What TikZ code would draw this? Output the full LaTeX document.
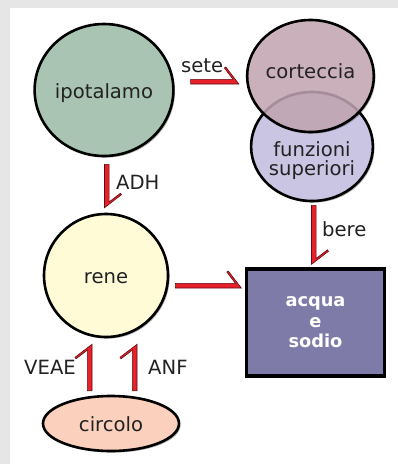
\documentclass[tikz,border=0pt]{standalone}
\usepackage{fontspec}
\setmainfont{DejaVu Sans}
\usetikzlibrary{calc,shapes.geometric,shadows}
\definecolor{bggray}{HTML}{E6E6E6}
\definecolor{ipoc}{HTML}{A9C4B2}
\definecolor{corc}{HTML}{CFB0BE}
\definecolor{func}{HTML}{C9C5E2}
\definecolor{renc}{HTML}{FEFBD6}
\definecolor{boxc}{HTML}{7F7BA9}
\definecolor{circ}{HTML}{FBD0BD}
\definecolor{arrred}{HTML}{E8202A}
\definecolor{arrline}{HTML}{5C0E12}
\definecolor{textc}{HTML}{222222}
\begin{document}
\begin{tikzpicture}[x=1pt,y=-1pt,
  blob/.style={ellipse, draw=black, line width=2.6pt, inner sep=0pt, text=textc,
    font=\fontsize{19.6}{18.3}\selectfont, text height=17pt, text depth=1pt,
    drop shadow={shadow xshift=1.6pt, shadow yshift=-1.6pt, fill=black, opacity=0.3}},
  lbl/.style={inner sep=0pt, text=textc, font=\fontsize{19.6}{18.3}\selectfont},
  harp/.style={draw=arrline, fill=arrred, line width=0.6pt, line join=miter,
    to path={-- (\tikztotarget)
      -- ($(\tikztotarget)!13pt!(\tikztostart)!17pt!-90:(\tikztostart)$)
      -- ($(\tikztotarget)!14.5pt!(\tikztostart)!16pt!-90:(\tikztostart)$)
      -- ($(\tikztotarget)!5.8pt!(\tikztostart)!4.6pt!-90:(\tikztostart)$)
      -- ($(\tikztostart)!4.6pt!90:(\tikztotarget)$) -- cycle}}]
\useasboundingbox (0,0) rectangle (398,464);
\fill[bggray] (0,0) rectangle (398,464);
\fill[white] (10,8) rectangle (398,464);

\node[blob, fill=ipoc, minimum width=124pt, minimum height=132pt] (ipo) at (104,90) {ipotalamo};
\node[blob, fill=func, minimum width=108pt, minimum height=109pt, align=center,
  text height=58pt, text depth=1pt] (fun) at (312,146.5) {funzioni\\superiori};
\node[blob, fill=corc, fill opacity=0.8, text opacity=1, draw opacity=1,
  minimum width=105pt, minimum height=112pt, text height=13pt, text depth=7.6pt] (cor) at (310.5,76) {corteccia};
\node[blob, fill=renc, minimum width=124pt, minimum height=123pt] (ren) at (106,275.5) {rene};
\node[blob, fill=circ, minimum width=136pt, minimum height=55pt] (cir) at (111,423.5) {circolo};
\node[rectangle, draw=black, line width=3.4pt, fill=boxc, minimum width=138pt, minimum height=107pt,
  text=white, align=center, font=\fontsize{17.8}{20.8}\selectfont\bfseries,
  drop shadow={shadow xshift=1.6pt, shadow yshift=-1.6pt, fill=black, opacity=0.3}] (box) at (315.5,322.3) {acqua\\e\\sodio};

\coordinate (s1) at ($(ipo.east)+(16,-6)$);
\coordinate (t1) at ($(cor.west)+(-7,8)$);
\coordinate (s2) at ($(ipo.south)+(0.5,7)$);
\coordinate (t2) at ($(ren.north)+(-1.5,-5)$);
\coordinate (s3) at ($(fun.south)+(-0.5,3)$);
\coordinate (t3) at ($(box.north)+(-4,-2.8)$);
\coordinate (s4) at ($(ren.east)+(6,12.5)$);
\coordinate (t4) at ($(box.west)+(-3.5,-34.3)$);
\coordinate (s5) at ($(cir.north)+(-19,-4)$);
\coordinate (t5) at ($(ren.south)+(-14,6)$);
\coordinate (s6) at ($(cir.north)+(26,-4)$);
\coordinate (t6) at ($(ren.south)+(31,6)$);

\draw[harp] (s1) to (t1);
\draw[harp] (s2) to (t2);
\draw[harp] (s3) to (t3);
\draw[harp] (s4) to (t4);
\draw[harp] (s5) to (t5);
\draw[harp] (s6) to (t6);

\node[lbl, anchor=base west] (lsete) at (181,72) {sete};
\node[lbl, anchor=base west] (ladh) at (116,189.5) {ADH};
\node[lbl, anchor=base west] (lbere) at (322,236) {bere};
\node[lbl, anchor=base east] (lveae) at (76,374.5) {VEAE};
\node[lbl, anchor=base west] (lanf) at (148,374.5) {ANF};
\end{tikzpicture}
\end{document}
